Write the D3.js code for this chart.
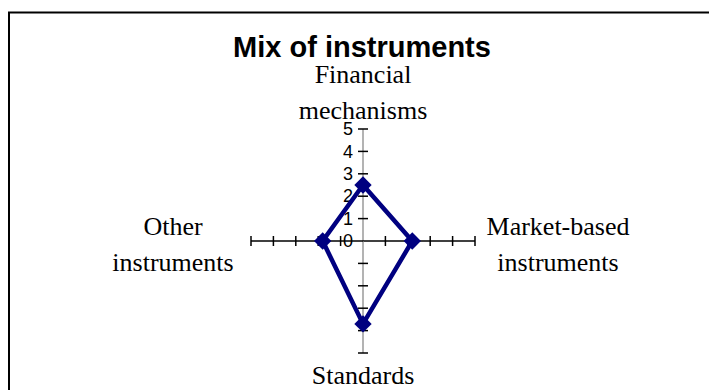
<!DOCTYPE html>
<html>
<head>
<meta charset="utf-8">
<script src="https://cdn.jsdelivr.net/npm/d3@7"></script>
<style>
  body { margin: 0; background: #fff; }
  svg { display: block; }
</style>
</head>
<body>
<svg id="radar"></svg>
<script>
// Mix of instruments radar chart

const categories = ["Financial mechanisms", "Market-based instruments", "Standards", "Other instruments"];
const categoryLines = [["Financial", "mechanisms"], ["Market-based", "instruments"], ["Standards"], ["Other", "instruments"]];
const scores = [2.5, 2.2, 3.7, 1.8];
const tickValues = [0, 1, 2, 3, 4, 5];

function drawRadar(){
  let width = 709;
  let height = 390;
  let svg = d3.select('#radar')
    .attr("width", width)
    .attr("height", height);

  // Chart area frame, runs off the right and bottom edge.
  svg.append('rect')
    .attr("x", 9)
    .attr("y", 12.5)
    .attr("width", 740)
    .attr("height", 420)
    .attr("fill", "none")
    .attr("stroke", "#000")
    .attr("stroke-width", 2);

  svg.append('text')
    .attr("x", 362)
    .attr("y", 57)
    .attr("text-anchor", "middle")
    .style("font-family", "'Liberation Sans', Arial, sans-serif")
    .style("font-weight", "bold")
    .style("font-size", "29px")
    .text("Mix of instruments");

  let cx = 363;
  let cy = 241;
  let rScale = d3.scaleLinear().domain([0, 5]).range([0, 112]);
  let angle = d3.scalePoint()
    .domain(categories)
    .range([0, 2 * Math.PI * (categories.length - 1) / categories.length]);

  let g = svg.append('g').attr("transform", `translate(${cx},${cy})`);

  // Spokes with crossing tick marks.
  categories.forEach(function(c){
    let a = angle(c);
    let spoke = g.append('g').attr("transform", `rotate(${a * 180 / Math.PI})`);
    let vertical = Math.abs(Math.sin(a)) < 0.01;
    spoke.append('line')
      .attr("x1", 0).attr("y1", 0)
      .attr("x2", 0).attr("y2", -rScale(5))
      .attr("stroke", vertical ? "#808080" : "#000")
      .attr("stroke-width", vertical ? 1.2 : 1.5);
    spoke.selectAll('line.tick')
      .data(tickValues.slice(1))
      .join('line')
      .attr("class", "tick")
      .attr("x1", -5).attr("x2", 5)
      .attr("y1", d => -rScale(d)).attr("y2", d => -rScale(d))
      .attr("stroke", "#000")
      .attr("stroke-width", 1.5);
  });

  // Value labels on the top spoke.
  let yAxis = d3.axisLeft(d3.scaleLinear().domain([0, 5]).range([0, -112]))
    .tickValues(tickValues)
    .tickFormat(d3.format("d"))
    .tickSize(0)
    .tickPadding(10);
  g.append('g')
    .call(yAxis)
    .call(a => a.select('.domain').remove())
    .selectAll('text')
    .attr("fill", "#000")
    .style("font-family", "'Liberation Sans', Arial, sans-serif")
    .style("font-size", "18px");

  // Data polygon.
  let radial = d3.lineRadial()
    .angle((d, i) => angle(categories[i]))
    .radius(d => rScale(d))
    .curve(d3.curveLinearClosed);
  g.append('path')
    .datum(scores)
    .attr("d", radial)
    .attr("fill", "none")
    .attr("stroke", "#000080")
    .attr("stroke-width", 4.5)
    .attr("stroke-linejoin", "miter");

  g.selectAll('path.marker')
    .data(scores)
    .join('path')
    .attr("class", "marker")
    .attr("d", d3.symbol(d3.symbolSquare, 150))
    .attr("fill", "#000080")
    .attr("transform", (d, i) => {
      let a = angle(categories[i]);
      let r = rScale(d);
      return `translate(${r * Math.sin(a)},${-r * Math.cos(a)}) rotate(45)`;
    });

  // Category labels.
  let labelPos = [[0, -158], [195, -6], [0, 143], [-190, -6]];
  categoryLines.forEach(function(lines, i){
    let t = g.append('text')
      .attr("text-anchor", "middle")
      .attr("transform", `translate(${labelPos[i][0]},${labelPos[i][1]})`)
      .style("font-family", "'Liberation Serif', 'Times New Roman', serif")
      .style("font-size", "26px")
      .attr("fill", "#000");
    lines.forEach(function(l, j){
      t.append('tspan')
        .attr("x", 0)
        .attr("y", j * 36)
        .text(l);
    });
  });
}

drawRadar();
</script>
</body>
</html>
